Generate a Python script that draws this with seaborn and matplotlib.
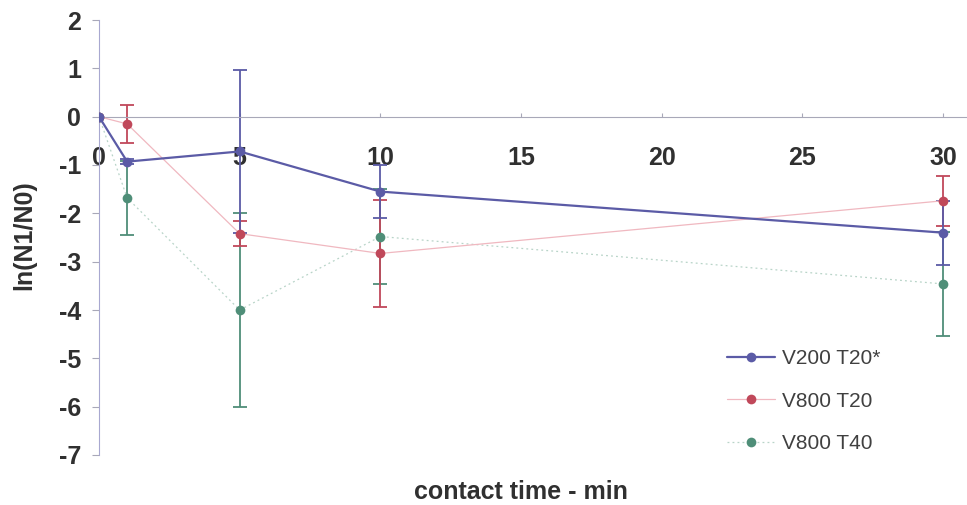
import numpy as np
import pandas as pd
import seaborn as sns
from matplotlib import pyplot as plt

# contact time (min)
time = [0, 1, 5, 10, 30]

# ln(N1/N0) means and error (+/-)
v200_t20 = [0, -0.93, -0.72, -1.55, -2.40]
v200_t20_err = [0, 0.05, 1.69, 0.55, 0.66]

v800_t20 = [0, -0.15, -2.42, -2.83, -1.74]
v800_t20_err = [0, 0.40, 0.26, 1.10, 0.52]

v800_t40 = [0, -1.68, -4.00, -2.48, -3.46]
v800_t40_err = [0, 0.77, 2.00, 0.99, 1.08]

labels = ["V200 T20*", "V800 T20", "V800 T40"]
colors = ["#5b5ba6", "#c0485a", "#4f8e78"]
line_colors = ["#5b5ba6", "#f0b8c0", "#b8d4c8"]

sns.set_style("white")
plt.rcParams['font.family'] = ['Liberation Sans', 'DejaVu Sans']
plt.rcParams['axes.unicode_minus'] = False

fig = plt.figure(figsize=(9.67, 5.05), dpi=100)
# axes placed so x=0 sits at px 99, x=30 at px 943, y=2 at px 20, y=-7 at px 455
x0, x30 = 99, 943
ppu = (x30 - x0) / 30
xmax = 31
axw = xmax * ppu
ax = fig.add_axes([x0 / 967, 1 - 455 / 505, axw / 967, (455 - 20) / 505])

df = pd.DataFrame({
    "time": time * 3,
    "val": v200_t20 + v800_t20 + v800_t40,
    "series": [labels[0]] * 5 + [labels[1]] * 5 + [labels[2]] * 5,
})

# error bars first, lines and markers on top
for y, e, c in [(v800_t40, v800_t40_err, colors[2]),
                (v800_t20, v800_t20_err, colors[1]),
                (v200_t20, v200_t20_err, colors[0])]:
    ax.errorbar(time[1:], y[1:], yerr=e[1:], fmt="none", ecolor=c,
                elinewidth=1.3, capsize=5, capthick=1.3, zorder=2)

styles = [dict(lw=1.6, ls="-"), dict(lw=0.9, ls="-"), dict(lw=0.9, ls=(0, (1.5, 2.5)))]
for lab, lc, mc, st, z in zip(labels, line_colors, colors, styles, [5, 4, 3]):
    sns.lineplot(data=df[df.series == lab], x="time", y="val", ax=ax,
                 color=lc, marker="o", markersize=7, markerfacecolor=mc,
                 markeredgewidth=0, label=lab, zorder=z, **st)

ax.set_xlim(0, xmax)
ax.set_ylim(-7, 2)
ax.set_yticks(range(-7, 3))
ax.set_xticks([0, 5, 10, 15, 20, 25, 30])

for s in ["top", "right"]:
    ax.spines[s].set_visible(False)
ax.spines["bottom"].set_position(("data", 0))
ax.spines["bottom"].set_color("#a8a8b8")
ax.spines["bottom"].set_linewidth(0.8)
ax.spines["left"].set_color("#a8a8d0")
ax.spines["left"].set_linewidth(0.8)

ax.tick_params(axis="y", which="both", left=True, length=5, width=0.8,
               color="#a8a8b8", labelsize=18, pad=8)
ax.tick_params(axis="x", which="both", bottom=True, length=3, width=0.8,
               direction="in", color="#a8a8b8", labelsize=18, pad=21)
for t in ax.get_xticklabels() + ax.get_yticklabels():
    t.set_fontweight("bold")
    t.set_color("#303030")

ax.set_xlabel("contact time - min", fontsize=18, fontweight="bold",
              color="#303030")
ax.xaxis.set_label_coords((521 - x0) / axw, -(480 - 455) / 435)
ax.set_ylabel("ln(N1/N0)", fontsize=18, fontweight="bold", color="#303030")
ax.yaxis.set_label_coords(-(99 - 36) / axw, 0.505)

leg = ax.legend(loc="upper left", bbox_to_anchor=((717 - x0) / axw, (455 - 339) / 435),
                frameon=False, fontsize=15, handlelength=2.3, handletextpad=0.3,
                labelspacing=1.12, labelcolor="#404040", borderpad=0)

fig.savefig("out.png", dpi=100)
